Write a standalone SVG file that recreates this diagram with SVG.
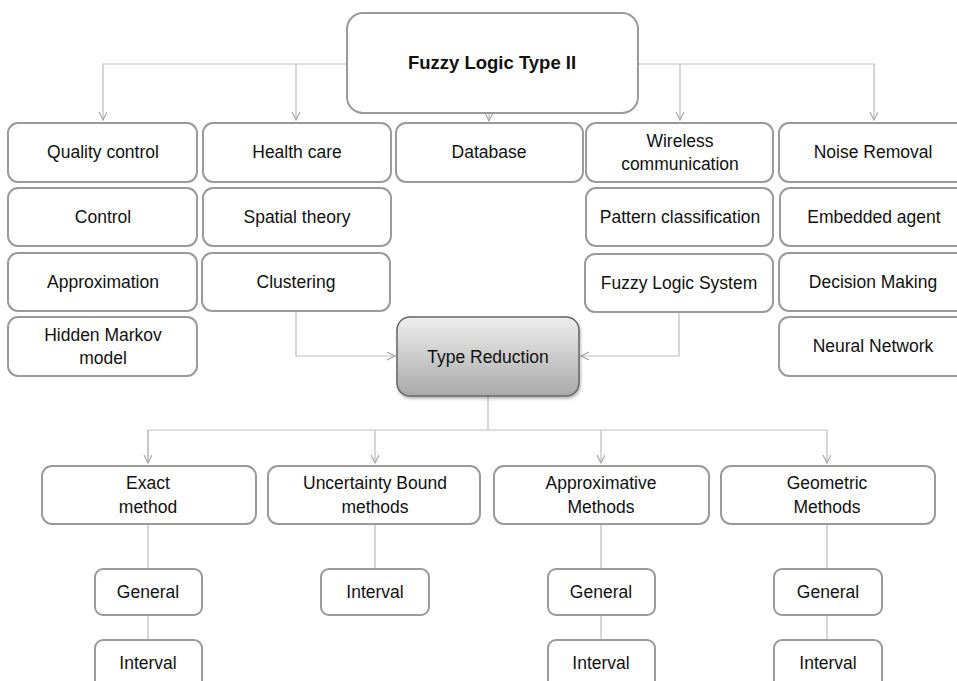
<svg xmlns="http://www.w3.org/2000/svg" width="957" height="681" viewBox="0 0 957 681">
<style>
.box{fill:#fff;stroke:#9a9a9a;stroke-width:2}
.t{font-family:"Liberation Sans",Arial,sans-serif;font-size:17.5px;fill:#111;text-anchor:middle}
.tb{font-family:"Liberation Sans",Arial,sans-serif;font-size:18.5px;font-weight:bold;fill:#111;text-anchor:middle}
.c{fill:none;stroke:#bdbdbd;stroke-width:1.2}
</style>
<defs>
<marker id="ah" markerWidth="10" markerHeight="10" refX="8" refY="4" orient="auto" markerUnits="userSpaceOnUse">
<path d="M0,0 L8,4 L0,8" fill="none" stroke="#a8a8a8" stroke-width="1.2"/>
</marker>
<linearGradient id="g" x1="0" y1="0" x2="0" y2="1">
<stop offset="0" stop-color="#eeeeee"/>
<stop offset="1" stop-color="#a9a9a9"/>
</linearGradient>
<filter id="sh" x="-10%" y="-10%" width="120%" height="130%">
<feDropShadow dx="1" dy="2" stdDeviation="1.5" flood-color="#000" flood-opacity="0.3"/>
</filter>
</defs>
<g id="connectors">
<path class="c" d="M347,64 H103 V120" marker-end="url(#ah)"/>
<path class="c" d="M296,64 V120" marker-end="url(#ah)"/>
<path class="c" d="M638,64 H874 V120" marker-end="url(#ah)"/>
<path class="c" d="M680,64 V120" marker-end="url(#ah)"/>
<path class="c" d="M489,113 V121" marker-end="url(#ah)"/>
<path class="c" d="M296,311 V356 H395" marker-end="url(#ah)"/>
<path class="c" d="M679,312 V356 H581" marker-end="url(#ah)"/>
<path class="c" d="M488,396 V430"/>
<path class="c" d="M148,463 V430 H827 V463" marker-end="url(#ah)"/>
<path class="c" d="M148,430 V463" marker-end="url(#ah)"/>
<path class="c" d="M375,430 V463" marker-end="url(#ah)"/>
<path class="c" d="M601,430 V463" marker-end="url(#ah)"/>
<path class="c" d="M148,524 V569 M148,615 V640"/>
<path class="c" d="M375,524 V569"/>
<path class="c" d="M601,524 V569 M601,615 V640"/>
<path class="c" d="M827,524 V569 M827,615 V640"/>
</g>
<g id="root"><rect class="box" x="347" y="13" width="291" height="100" rx="16"/><text class="tb" x="492" y="69">Fuzzy Logic Type II</text></g>
<g id="quality"><rect class="box" x="8" y="123" width="189" height="59" rx="10"/><text class="t" x="103" y="158">Quality control</text></g>
<g id="control"><rect class="box" x="8" y="188" width="189" height="58" rx="10"/><text class="t" x="103" y="223">Control</text></g>
<g id="approximation"><rect class="box" x="8" y="253" width="189" height="58" rx="10"/><text class="t" x="103" y="288">Approximation</text></g>
<g id="hmm"><rect class="box" x="8" y="317" width="189" height="59" rx="10"/><text class="t" x="103" y="341">Hidden Markov</text><text class="t" x="103" y="364">model</text></g>
<g id="health"><rect class="box" x="203" y="123" width="188" height="59" rx="10"/><text class="t" x="297" y="158">Health care</text></g>
<g id="spatial"><rect class="box" x="203" y="188" width="188" height="58" rx="10"/><text class="t" x="297" y="223">Spatial theory</text></g>
<g id="clustering"><rect class="box" x="202" y="253" width="188" height="58" rx="10"/><text class="t" x="296" y="288">Clustering</text></g>
<g id="database"><rect class="box" x="396" y="123" width="187" height="59" rx="10"/><text class="t" x="489" y="158">Database</text></g>
<g id="wireless"><rect class="box" x="586" y="123" width="187" height="59" rx="10"/><text class="t" x="680" y="147">Wireless</text><text class="t" x="680" y="170">communication</text></g>
<g id="pattern"><rect class="box" x="586" y="188" width="187" height="58" rx="10"/><text class="t" x="680" y="223">Pattern classification</text></g>
<g id="fls"><rect class="box" x="585" y="254" width="188" height="58" rx="10"/><text class="t" x="679" y="289">Fuzzy Logic System</text></g>
<g id="noise"><rect class="box" x="779" y="123" width="190" height="59" rx="10"/><text class="t" x="873" y="158">Noise Removal</text></g>
<g id="embedded"><rect class="box" x="780" y="188" width="189" height="58" rx="10"/><text class="t" x="874" y="223">Embedded agent</text></g>
<g id="decision"><rect class="box" x="779" y="253" width="190" height="58" rx="10"/><text class="t" x="873" y="288">Decision Making</text></g>
<g id="neural"><rect class="box" x="779" y="317" width="190" height="59" rx="10"/><text class="t" x="873" y="352">Neural Network</text></g>
<g id="typereduction"><rect x="397" y="317" width="182" height="79" rx="13" fill="url(#g)" stroke="#666" stroke-width="1.5" filter="url(#sh)"/><text class="t" x="488" y="363">Type Reduction</text></g>
<g id="exact"><rect class="box" x="42" y="466" width="214" height="58" rx="10"/><text class="t" x="148" y="489">Exact</text><text class="t" x="148" y="513">method</text></g>
<g id="uncertainty"><rect class="box" x="268" y="466" width="212" height="58" rx="10"/><text class="t" x="375" y="489">Uncertainty Bound</text><text class="t" x="375" y="513">methods</text></g>
<g id="approximative"><rect class="box" x="494" y="466" width="215" height="58" rx="10"/><text class="t" x="601" y="489">Approximative</text><text class="t" x="601" y="513">Methods</text></g>
<g id="geometric"><rect class="box" x="721" y="466" width="214" height="58" rx="10"/><text class="t" x="827" y="489">Geometric</text><text class="t" x="827" y="513">Methods</text></g>
<g id="exact-general"><rect class="box" x="95" y="569" width="107" height="46" rx="8"/><text class="t" x="148" y="598">General</text></g>
<g id="exact-interval"><rect class="box" x="95" y="640" width="107" height="58" rx="8"/><text class="t" x="148" y="669">Interval</text></g>
<g id="ub-interval"><rect class="box" x="321" y="569" width="108" height="46" rx="8"/><text class="t" x="375" y="598">Interval</text></g>
<g id="approx-general"><rect class="box" x="548" y="569" width="107" height="46" rx="8"/><text class="t" x="601" y="598">General</text></g>
<g id="approx-interval"><rect class="box" x="548" y="640" width="107" height="58" rx="8"/><text class="t" x="601" y="669">Interval</text></g>
<g id="geo-general"><rect class="box" x="774" y="569" width="108" height="46" rx="8"/><text class="t" x="828" y="598">General</text></g>
<g id="geo-interval"><rect class="box" x="774" y="640" width="108" height="58" rx="8"/><text class="t" x="828" y="669">Interval</text></g>
</svg>
